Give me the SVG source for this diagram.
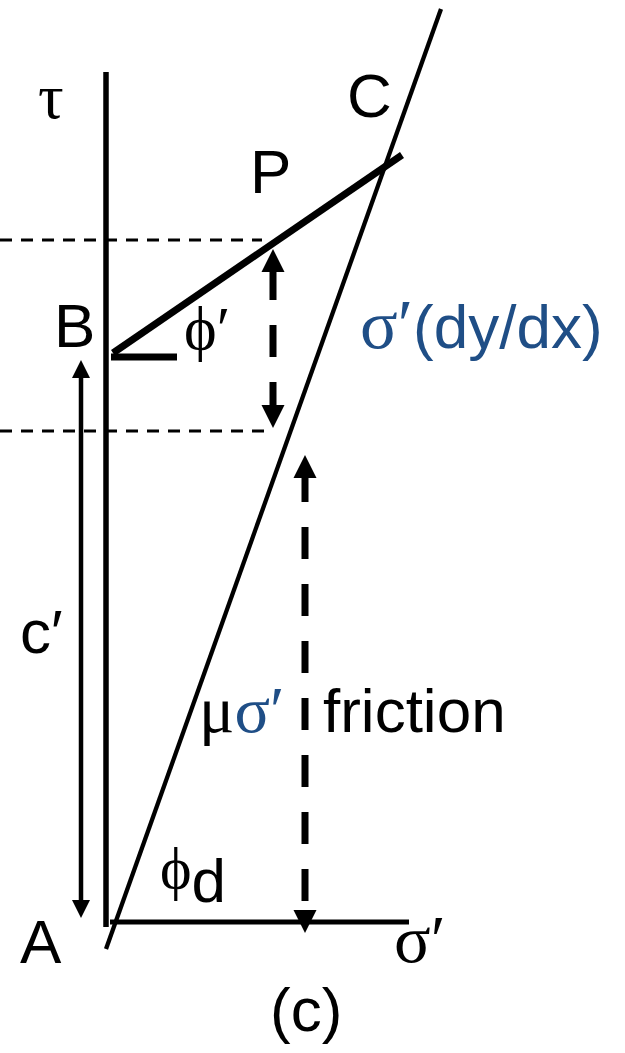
<svg xmlns="http://www.w3.org/2000/svg" width="625" height="1053" viewBox="0 0 625 1053">
<style>
.ax{stroke:#000;fill:none;stroke-linecap:butt}
.dash{stroke:#000;stroke-width:3;stroke-dasharray:12 9;fill:none}
.sans{font-family:"Liberation Sans",Arial,sans-serif;font-size:62px;fill:#000}
.serif{font-family:"Liberation Serif","Times New Roman",serif;fill:#000}
.blue{fill:#1f4e86}
</style>
<defs>
<marker id="hBig" markerUnits="userSpaceOnUse" markerWidth="24" markerHeight="24" viewBox="0 -12 23 24" refX="0" refY="0" orient="auto-start-reverse">
<path d="M0,-11.5 L23,0 L0,11.5 z" fill="#000"/>
</marker>
<marker id="hSmall" markerUnits="userSpaceOnUse" markerWidth="19" markerHeight="19" viewBox="0 -9.5 18 19" refX="0" refY="0" orient="auto-start-reverse">
<path d="M0,-9 L18,0 L0,9 z" fill="#000"/>
</marker>
</defs>
<g id="axes">
<line class="ax" x1="106" y1="72" x2="106" y2="927" stroke-width="5.5"/>
<line class="ax" x1="110" y1="922" x2="409" y2="922" stroke-width="5"/>
</g>
<g id="lines">
<line class="ax" x1="106" y1="949" x2="441" y2="9" stroke-width="4.3"/>
<line class="ax" x1="113" y1="353" x2="402" y2="155" stroke-width="7"/>
<line class="ax" x1="111" y1="357" x2="177" y2="357" stroke-width="7"/>
<line class="dash" x1="0" y1="240" x2="262" y2="240"/>
<line class="dash" x1="0" y1="431" x2="273" y2="431"/>
</g>
<g id="connectors">
<line class="ax" x1="81" y1="378" x2="81" y2="900" stroke-width="4.5" marker-start="url(#hSmall)" marker-end="url(#hSmall)"/>
<line class="ax" x1="273" y1="272" x2="273" y2="405" stroke-width="7" stroke-dasharray="28 25 32 25 23" marker-start="url(#hBig)" marker-end="url(#hBig)"/>
<line class="ax" x1="305" y1="478" x2="305" y2="910" stroke-width="7" stroke-dasharray="32 25" stroke-dashoffset="8" marker-start="url(#hBig)" marker-end="url(#hBig)"/>
</g>
<g id="labels">
<text class="serif" x="38" y="118" font-size="64">τ</text>
<text class="sans" x="54" y="347">B</text>
<text class="serif" x="184" y="349" font-size="62">ϕ′</text>
<text class="sans" x="250" y="193">P</text>
<text class="sans" x="347" y="117">C</text>
<text class="sans blue" x="360" y="348"><tspan class="serif blue" font-size="70">σ′</tspan>(dy/dx)</text>
<text class="sans" x="20" y="653">c′</text>
<text class="serif" x="199" y="732" font-size="66">μ<tspan class="blue">σ′</tspan></text>
<text class="sans" x="323" y="732">friction</text>
<text class="serif" x="160" y="888" font-size="60">ϕ<tspan class="sans" font-size="42" dy="14">d</tspan></text>
<text class="sans" x="20" y="963">A</text>
<text class="serif" x="394" y="962" font-size="68">σ′</text>
<text class="sans" x="270" y="1031" font-size="58">(c)</text>
</g>
</svg>
